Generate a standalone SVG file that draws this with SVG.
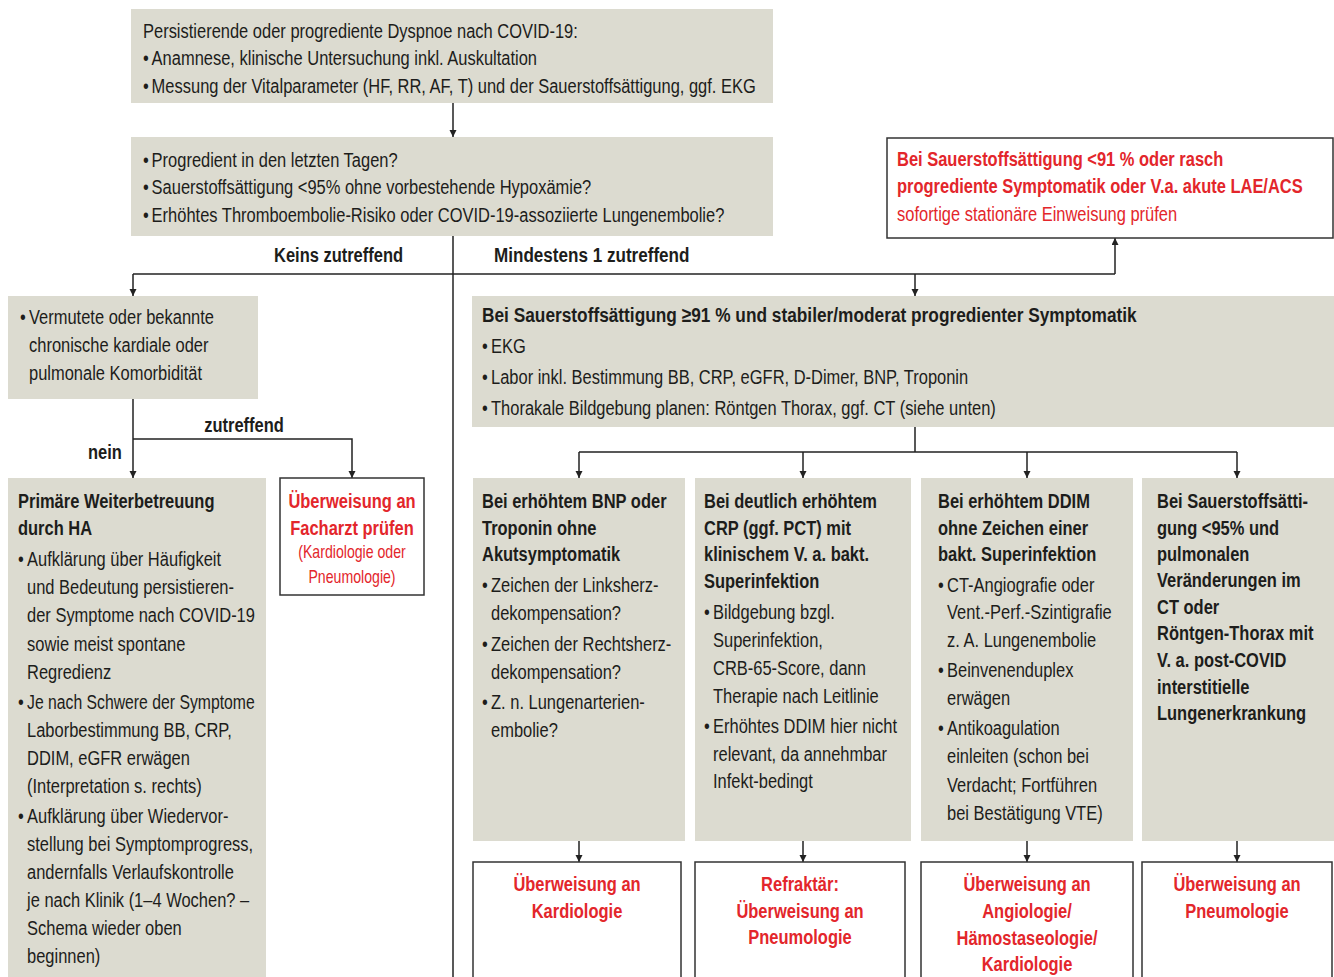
<svg xmlns="http://www.w3.org/2000/svg" width="1334" height="977" viewBox="0 0 1334 977">
<defs>
<style>
text { font-family: "Liberation Sans", Arial, sans-serif; font-size: 21px; fill: #1d1d1b; }
.b { font-weight: bold; }
.red { fill: #e3262b; }
.sm { font-size: 18px; }
.c { text-anchor: middle; }
.bx { fill: #dcdbd0; }
.wb { fill: #ffffff; stroke: #333333; stroke-width: 1.5; }
.ln { fill: none; stroke: #222222; stroke-width: 1.5; }
.ar { marker-end: url(#ah); }
</style>
<marker id="ah" markerWidth="8" markerHeight="8" refX="7" refY="3.5" orient="auto" markerUnits="userSpaceOnUse">
<path d="M0,0 L7,3.5 L0,7 z" fill="#222222"/>
</marker>
</defs>
<rect width="1334" height="977" fill="#ffffff"/>

<g id="connectors">
<path class="ln ar" d="M453,103 V137"/>
<path class="ln" d="M453,236 V977"/>
<path class="ln" d="M133,274 H1115"/>
<path class="ln ar" d="M1115,274 V238"/>
<path class="ln ar" d="M133,274 V296"/>
<path class="ln ar" d="M915,274 V296"/>
<path class="ln ar" d="M133,399 V478"/>
<path class="ln ar" d="M133,439 H352 V478"/>
<path class="ln" d="M915,427 V452 M579,452 H1237"/>
<path class="ln ar" d="M579,452 V478"/>
<path class="ln ar" d="M803,452 V478"/>
<path class="ln ar" d="M1027,452 V478"/>
<path class="ln ar" d="M1237,452 V478"/>
<path class="ln ar" d="M579,841 V862"/>
<path class="ln ar" d="M803,841 V862"/>
<path class="ln ar" d="M1027,841 V862"/>
<path class="ln ar" d="M1237,841 V862"/>
<text class="b" transform="translate(274 262) scale(0.785 1)">Keins zutreffend</text>
<text class="b" transform="translate(494 262) scale(0.785 1)" textLength="249" lengthAdjust="spacingAndGlyphs">Mindestens 1 zutreffend</text>
<text class="b c" transform="translate(244 432) scale(0.785 1)">zutreffend</text>
<text class="b" transform="translate(88 459) scale(0.785 1)">nein</text>
</g>

<g id="n-start">
<rect class="bx" x="131" y="9" width="642" height="94"/>
<g transform="translate(143 0) scale(0.785 1)">
<text x="0" y="38">Persistierende oder progrediente Dyspnoe nach COVID-19:</text>
<text x="0" y="65">•</text><text x="11" y="65">Anamnese, klinische Untersuchung inkl. Auskultation</text>
<text x="0" y="93">•</text><text x="11" y="93">Messung der Vitalparameter (HF, RR, AF, T) und der Sauerstoffsättigung, ggf. EKG</text>
</g>
</g>

<g id="n-check">
<rect class="bx" x="131" y="137" width="642" height="99"/>
<g transform="translate(143 0) scale(0.785 1)">
<text x="0" y="167">•</text><text x="11" y="167">Progredient in den letzten Tagen?</text>
<text x="0" y="194">•</text><text x="11" y="194">Sauerstoffsättigung &lt;95% ohne vorbestehende Hypoxämie?</text>
<text x="0" y="222">•</text><text x="11" y="222">Erhöhtes Thromboembolie-Risiko oder COVID-19-assoziierte Lungenembolie?</text>
</g>
</g>

<g id="n-emergency">
<rect class="wb" x="887" y="138" width="446" height="100"/>
<g transform="translate(897 0) scale(0.785 1)">
<text class="b red" x="0" y="166">Bei Sauerstoffsättigung &lt;91 % oder rasch</text>
<text class="b red" x="0" y="193">progrediente Symptomatik oder V.a. akute LAE/ACS</text>
<text class="red" x="0" y="221">sofortige stationäre Einweisung prüfen</text>
</g>
</g>

<g id="n-comorb">
<rect class="bx" x="8" y="296" width="250" height="103"/>
<g transform="translate(20 0) scale(0.785 1)">
<text x="0" y="324">•</text><text x="11.5" y="324">Vermutete oder bekannte</text>
<text x="11.5" y="352">chronische kardiale oder</text>
<text x="11.5" y="380">pulmonale Komorbidität</text>
</g>
</g>

<g id="n-ha">
<rect class="bx" x="8" y="478" width="258" height="510"/>
<g transform="translate(18 0) scale(0.785 1)">
<text class="b" x="0" y="508">Primäre Weiterbetreuung</text>
<text class="b" x="0" y="535">durch HA</text>
<text x="0" y="566">•</text><text x="11.5" y="566">Aufklärung über Häufigkeit</text>
<text x="11.5" y="594">und Bedeutung persistieren-</text>
<text x="11.5" y="622">der Symptome nach COVID-19</text>
<text x="11.5" y="651">sowie meist spontane</text>
<text x="11.5" y="679">Regredienz</text>
<text x="0" y="709">•</text><text x="11.5" y="709" textLength="290" lengthAdjust="spacingAndGlyphs">Je nach Schwere der Symptome</text>
<text x="11.5" y="737">Laborbestimmung BB, CRP,</text>
<text x="11.5" y="765">DDIM, eGFR erwägen</text>
<text x="11.5" y="793">(Interpretation s. rechts)</text>
<text x="0" y="823">•</text><text x="11.5" y="823">Aufklärung über Wiedervor-</text>
<text x="11.5" y="851">stellung bei Symptomprogress,</text>
<text x="11.5" y="879">andernfalls Verlaufskontrolle</text>
<text x="11.5" y="907">je nach Klinik (1–4 Wochen?  –</text>
<text x="11.5" y="935">Schema wieder oben</text>
<text x="11.5" y="963">beginnen)</text>
</g>
</g>

<g id="n-facharzt">
<rect class="wb" x="280" y="478" width="144" height="117"/>
<g transform="translate(352 0) scale(0.785 1)">
<text class="b red c" x="0" y="508">Überweisung an</text>
<text class="b red c" x="0" y="535">Facharzt prüfen</text>
<text class="red sm c" x="0" y="558">(Kardiologie oder</text>
<text class="red sm c" x="0" y="583">Pneumologie)</text>
</g>
</g>

<g id="n-stable">
<rect class="bx" x="472" y="296" width="862" height="131"/>
<g transform="translate(482 0) scale(0.785 1)">
<text class="b" x="0" y="322" textLength="834" lengthAdjust="spacingAndGlyphs">Bei Sauerstoffsättigung ≥91 % und stabiler/moderat progredienter Symptomatik</text>
<text x="0" y="353">•</text><text x="11.5" y="353">EKG</text>
<text x="0" y="384">•</text><text x="11.5" y="384">Labor inkl. Bestimmung BB, CRP, eGFR, D-Dimer, BNP, Troponin</text>
<text x="0" y="415">•</text><text x="11.5" y="415">Thorakale Bildgebung planen: Röntgen Thorax, ggf. CT (siehe unten)</text>
</g>
</g>

<g id="n-bnp">
<rect class="bx" x="473" y="478" width="212" height="363"/>
<g transform="translate(482 0) scale(0.785 1)">
<text class="b" x="0" y="508">Bei erhöhtem BNP oder</text>
<text class="b" x="0" y="535">Troponin ohne</text>
<text class="b" x="0" y="561">Akutsymptomatik</text>
<text x="0" y="592">•</text><text x="11.5" y="592">Zeichen der Linksherz-</text>
<text x="11.5" y="620">dekompensation?</text>
<text x="0" y="651">•</text><text x="11.5" y="651">Zeichen der Rechtsherz-</text>
<text x="11.5" y="679">dekompensation?</text>
<text x="0" y="709">•</text><text x="11.5" y="709">Z. n. Lungenarterien-</text>
<text x="11.5" y="737">embolie?</text>
</g>
</g>

<g id="n-crp">
<rect class="bx" x="695" y="478" width="216" height="363"/>
<g transform="translate(704 0) scale(0.785 1)">
<text class="b" x="0" y="508">Bei deutlich erhöhtem</text>
<text class="b" x="0" y="535">CRP (ggf. PCT) mit</text>
<text class="b" x="0" y="561">klinischem V. a. bakt.</text>
<text class="b" x="0" y="588">Superinfektion</text>
<text x="0" y="619">•</text><text x="11.5" y="619">Bildgebung bzgl.</text>
<text x="11.5" y="647">Superinfektion,</text>
<text x="11.5" y="675">CRB-65-Score, dann</text>
<text x="11.5" y="703">Therapie nach Leitlinie</text>
<text x="0" y="733">•</text><text x="11.5" y="733">Erhöhtes DDIM hier nicht</text>
<text x="11.5" y="761">relevant, da annehmbar</text>
<text x="11.5" y="788">Infekt-bedingt</text>
</g>
</g>

<g id="n-ddim">
<rect class="bx" x="921" y="478" width="212" height="363"/>
<g transform="translate(938 0) scale(0.785 1)">
<text class="b" x="0" y="508">Bei erhöhtem DDIM</text>
<text class="b" x="0" y="535">ohne Zeichen einer</text>
<text class="b" x="0" y="561">bakt. Superinfektion</text>
<text x="0" y="592">•</text><text x="11.5" y="592">CT-Angiografie oder</text>
<text x="11.5" y="619">Vent.-Perf.-Szintigrafie</text>
<text x="11.5" y="647">z. A. Lungenembolie</text>
<text x="0" y="677">•</text><text x="11.5" y="677">Beinvenenduplex</text>
<text x="11.5" y="705">erwägen</text>
<text x="0" y="735">•</text><text x="11.5" y="735">Antikoagulation</text>
<text x="11.5" y="763">einleiten (schon bei</text>
<text x="11.5" y="792">Verdacht; Fortführen</text>
<text x="11.5" y="820">bei Bestätigung VTE)</text>
</g>
</g>

<g id="n-spo2">
<rect class="bx" x="1142" y="478" width="192" height="363"/>
<g transform="translate(1157 0) scale(0.785 1)">
<text class="b" x="0" y="508">Bei Sauerstoffsätti-</text>
<text class="b" x="0" y="535">gung &lt;95% und</text>
<text class="b" x="0" y="561">pulmonalen</text>
<text class="b" x="0" y="587">Veränderungen im</text>
<text class="b" x="0" y="614">CT oder</text>
<text class="b" x="0" y="640">Röntgen-Thorax mit</text>
<text class="b" x="0" y="667">V. a. post-COVID</text>
<text class="b" x="0" y="694">interstitielle</text>
<text class="b" x="0" y="720">Lungenerkrankung</text>
</g>
</g>

<g id="n-kardio">
<rect class="wb" x="473" y="862" width="208" height="130"/>
<g transform="translate(577 0) scale(0.785 1)">
<text class="b red c" x="0" y="891">Überweisung an</text>
<text class="b red c" x="0" y="918">Kardiologie</text>
</g>
</g>

<g id="n-pneumo1">
<rect class="wb" x="695" y="862" width="210" height="130"/>
<g transform="translate(800 0) scale(0.785 1)">
<text class="b red c" x="0" y="891">Refraktär:</text>
<text class="b red c" x="0" y="918">Überweisung an</text>
<text class="b red c" x="0" y="944">Pneumologie</text>
</g>
</g>

<g id="n-angio">
<rect class="wb" x="921" y="862" width="212" height="130"/>
<g transform="translate(1027 0) scale(0.785 1)">
<text class="b red c" x="0" y="891">Überweisung an</text>
<text class="b red c" x="0" y="918">Angiologie/</text>
<text class="b red c" x="0" y="945">Hämostaseologie/</text>
<text class="b red c" x="0" y="971">Kardiologie</text>
</g>
</g>

<g id="n-pneumo2">
<rect class="wb" x="1142" y="862" width="190" height="130"/>
<g transform="translate(1237 0) scale(0.785 1)">
<text class="b red c" x="0" y="891">Überweisung an</text>
<text class="b red c" x="0" y="918">Pneumologie</text>
</g>
</g>
</svg>
